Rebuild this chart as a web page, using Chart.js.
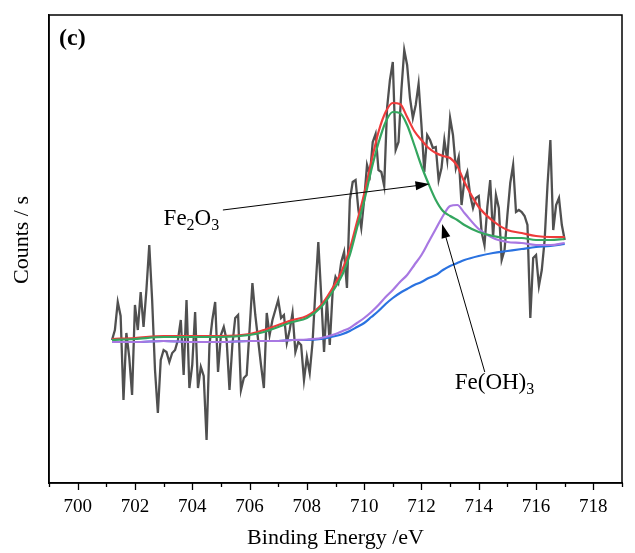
<!DOCTYPE html>
<html><head><meta charset="utf-8">
<script src="https://cdn.jsdelivr.net/npm/chart.js@4.4.0/dist/chart.umd.min.js"></script>
<style>html,body{margin:0;padding:0;background:#fff}#wrap{width:635px;height:553px;position:relative}</style>
</head><body><div id="wrap"><canvas id="c" width="635" height="553"></canvas></div>
<script>
// Raw spectrum: binding energy grid (eV) and counts
const energyStart = 701.2, energyStep = 0.1;
const rawCounts = [
 143,153,181,167,83,150,126,88,178,153,
 191,156,193,238,183,113,70,123,133,131,
 121,130,133,143,163,108,183,95,118,171,
 95,116,107,43,138,163,181,111,148,156,
 143,93,138,165,168,93,105,108,153,200,
 168,143,118,95,170,148,163,173,183,165,
 168,140,153,170,131,141,138,103,126,110,
 141,193,241,188,131,183,138,191,206,200,
 221,231,195,283,301,303,273,255,283,318,
 308,341,349,313,311,297,375,403,421,333,
 341,393,433,418,385,365,378,399,358,311,
 348,343,335,336,303,315,343,323,365,348,
 315,326,278,303,311,288,275,285,287,251,
 238,276,303,246,288,275,223,233,268,300,
 318,271,273,271,267,258,165,225,228,197,
 213,243,298,343,253,278,285,258,243
];
// Fitted curves
const fitEnergy = [701.2,702,703,704,705,706,706.5,707,707.5,708,708.5,709,709.25,709.5,709.75,710,710.25,710.5,710.75,711,711.25,711.5,711.75,712,712.25,712.5,712.75,713,713.25,713.5,714,714.5,715,715.5,716,716.5,717];
const envelope   = [144,145,147,147,147,149,153,158,163,167,178,200,214,234,261,289,321,351,371,380,379,366,352,343,335,330,327,325,317,301,276,262,253,250,247,246,246];
const fe2o3Fit   = [143,144,146,146,146,148,151,156,161,165,176,196,209,228,255,282,313,340,361,371,370,358,338,317,299,283,272,267,263,258,251,247,245,245,243,243,244];
const feoh3Fit   = [141,141,142,141,141,142,142,142,143,143.5,145,149,152,155,160,165,171,178,186,193,201,208,218,228,241,254,267,277,278,270,254,245,241,240,238,238,240];
const background = [141,141,142,141,141,142,142,142,143,143,144,147,149,152,156,160,166,172,179,185,190,194,198,201,205,208,213,217,220,223,227,230,232,234,236,237,239];
// Axis
const xMin = 699, xMax = 719, yMin = 0, yMax = 468;
const xTickValues = [699,700,701,702,703,704,705,706,707,708,709,710,711,712,713,714,715,716,717,718,719];
// Annotations (data coords)
const annotations = [
  {parts:[['Fe',0],['2',1],['O',0],['3',1]], at:[703.97,266], from:[705.07,273], to:[712.28,299]},
  {parts:[['Fe(OH)',0],['3',1]], at:[714.55,102], from:[714.21,111], to:[712.72,259]}
];

const rawPoints = rawCounts.map((v,i)=>({x: +(energyStart + i*energyStep).toFixed(1), y: v}));
const fitPts = arr => arr.map((v,i)=>({x: fitEnergy[i], y: v}));

const SERIF = '"Liberation Serif","Times New Roman",serif';

const decor = {
  id:'decor',
  afterDraw(chart){
    const {ctx, chartArea:a, scales:{x,y}} = chart;
    ctx.save();
    // box
    ctx.strokeStyle='#000'; ctx.lineWidth=1.5;
    ctx.strokeRect(a.left, a.top, a.right-a.left, a.bottom-a.top);
    // ticks
    ctx.lineWidth=1.3;
    xTickValues.forEach(v=>{
      const px = Math.round(x.getPixelForValue(v))+0.5;
      const len = (v%2===0)?7:4;
      ctx.beginPath(); ctx.moveTo(px, a.bottom); ctx.lineTo(px, a.bottom+len); ctx.stroke();
    });
    // panel label
    ctx.fillStyle='#000';
    ctx.font='bold 24px '+SERIF;
    ctx.textBaseline='middle'; ctx.textAlign='left';
    ctx.fillText('(c)', a.left+10, a.top+24);
    // y title
    ctx.font='22px '+SERIF;
    ctx.translate(22, (a.top+a.bottom)/2 - 9);
    ctx.rotate(-Math.PI/2);
    ctx.textAlign='center'; ctx.textBaseline='middle';
    ctx.fillText('Counts / s', 0, 0);
    ctx.setTransform(1,0,0,1,0,0);
    // annotations
    annotations.forEach(an=>{
      const fx=x.getPixelForValue(an.from[0]), fy=y.getPixelForValue(an.from[1]);
      const tx=x.getPixelForValue(an.to[0]), ty=y.getPixelForValue(an.to[1]);
      ctx.strokeStyle='#000'; ctx.lineWidth=1;
      const ang=Math.atan2(ty-fy, tx-fx), L=14, W=4.5;
      ctx.beginPath(); ctx.moveTo(fx,fy); ctx.lineTo(tx-Math.cos(ang)*L*0.8, ty-Math.sin(ang)*L*0.8); ctx.stroke();
      ctx.beginPath();
      ctx.moveTo(tx,ty);
      ctx.lineTo(tx-Math.cos(ang)*L - Math.sin(ang)*W, ty-Math.sin(ang)*L + Math.cos(ang)*W);
      ctx.lineTo(tx-Math.cos(ang)*L + Math.sin(ang)*W, ty-Math.sin(ang)*L - Math.cos(ang)*W);
      ctx.closePath(); ctx.fill();
      // formula text
      const main='23px '+SERIF, sub='16px '+SERIF;
      let w=0;
      an.parts.forEach(([t,s])=>{ctx.font=s?sub:main; w+=ctx.measureText(t).width;});
      let cx=x.getPixelForValue(an.at[0])-w/2; const cy=y.getPixelForValue(an.at[1]);
      ctx.textBaseline='alphabetic'; ctx.textAlign='left';
      an.parts.forEach(([t,s])=>{
        ctx.font=s?sub:main;
        ctx.fillText(t, cx, cy+8+(s?5:0));
        cx+=ctx.measureText(t).width;
      });
    });
    ctx.restore();
  }
};

const ds = (label, data, color, width, tension) => ({label, data, borderColor:color, backgroundColor:color, borderWidth:width, pointRadius:0, tension, cubicInterpolationMode: tension? 'monotone':'default', fill:false});

new Chart(document.getElementById('c'), {
  type:'line',
  data:{datasets:[
    ds('Fe2O3', fitPts(fe2o3Fit), '#34a65f', 2.2, 0.4),
    ds('Fe(OH)3', fitPts(feoh3Fit), '#a878e2', 2.2, 0.4),
    ds('Envelope', fitPts(envelope), '#ee3b3b', 2.2, 0.4),
    ds('Background', fitPts(background), '#2a72e0', 2.2, 0.4),
    ds('Raw', rawPoints, '#505050', 2.3, 0)
  ]},
  options:{
    responsive:false, animation:false, devicePixelRatio:1,
    layout:{padding:{top:15, right:6, left:0, bottom:0}},
    plugins:{legend:{display:false}, tooltip:{enabled:false}},
    scales:{
      x:{type:'linear', min:xMin, max:xMax,
        grid:{display:true, drawOnChartArea:false, drawTicks:false, color:'rgba(0,0,0,0)'},
        border:{display:true, color:'#000', width:1.5},
        ticks:{stepSize:1, autoSkip:false, maxRotation:0, padding:13, color:'#000',
          font:{family:SERIF, size:19},
          callback:v=> (v%2===0)? String(v) : ''},
        title:{display:true, text:'Binding Energy /eV', color:'#000', font:{family:SERIF, size:22}, padding:{top:0,bottom:2}},
        afterFit:s=>{s.height=70;}
      },
      y:{min:yMin, max:yMax,
        grid:{display:false, drawTicks:false},
        border:{display:true, color:'#000', width:1.5},
        ticks:{display:false},
        title:{display:false, text:'Counts / s'},
        afterFit:s=>{s.width=49;}
      }
    }
  },
  plugins:[decor]
});
</script>
</body></html>
